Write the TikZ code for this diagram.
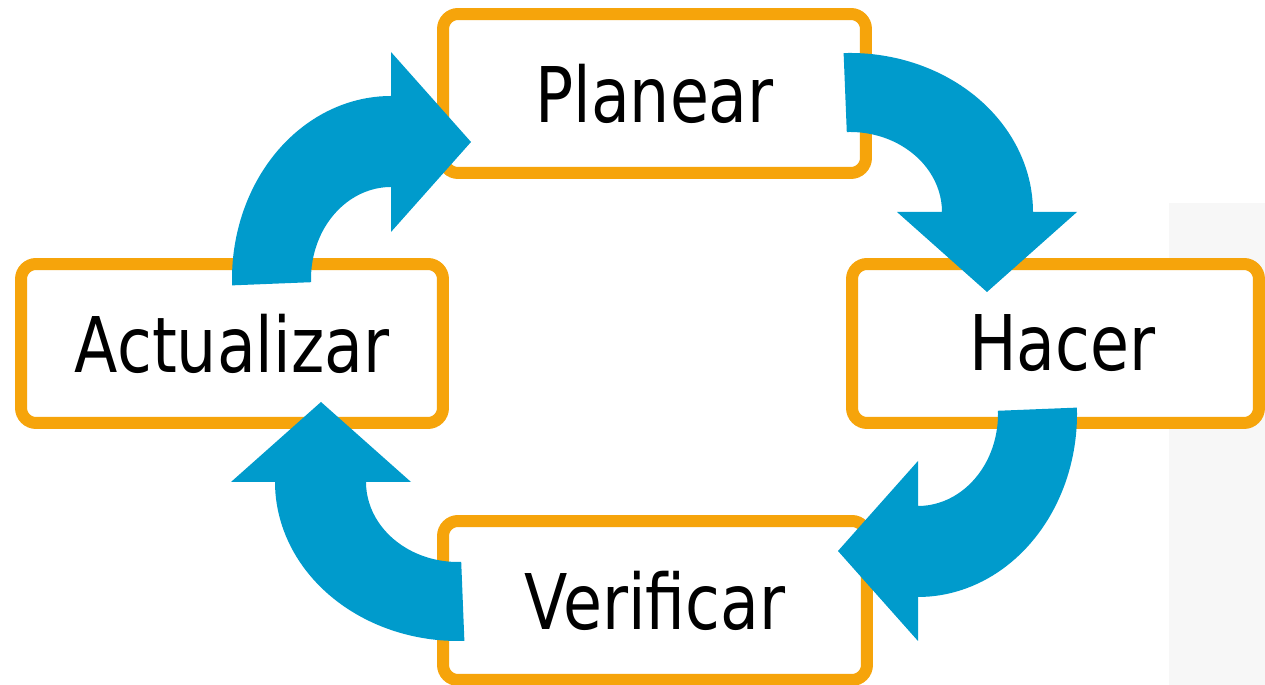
\documentclass[tikz,border=0pt]{standalone}
\usepackage{fontspec}
\setmainfont{DejaVu Sans}

\definecolor{boxorange}{HTML}{F6A40B}
\definecolor{cycleblue}{HTML}{009BCC}
\definecolor{panelgray}{HTML}{F7F7F7}

\tikzset{
	stage/.style={draw=boxorange, line width=0.24cm, fill=white, rounded corners=0.3cm,
		minimum height=3.18cm, inner sep=0pt, font=\fontsize{43.7}{50}\selectfont},
}
\newcommand{\stagetext}[1]{\scalebox{0.825}[1]{#1}}

\begin{document}
\begin{tikzpicture}[x=0.02cm, y=0.02cm]
	\useasboundingbox (0,0) rectangle (1265,685);

	% grey panel on the right
	\fill[panelgray] (1169,0) rectangle (1265,482);

	% stages of the cycle
	\node[stage, minimum width=8.46cm] (plan) at (654.5,591.5) {\stagetext{Planear}};
	\node[stage, minimum width=8.14cm] (do) at (1055.5,341.5) {\hspace*{0.28cm}\stagetext{Hacer}};
	\node[stage, minimum width=8.48cm] (check) at (655,84.5) {\stagetext{Verificar}};
	\node[stage, minimum width=8.44cm] (act) at (232,341.5) {\stagetext{Actualizar}};

	% curved arrows, clockwise
	\foreach \cx/\cy/\rot in {850/473/0, 918/271/-90, 458/203/180, 391/406/90}
		\fill[cycleblue, shift={(\cx,\cy)}, rotate=\rot]
			(92:183 and 159) arc[start angle=92, end angle=0, x radius=183, y radius=159]
			-- (227,0) -- (137,-80) -- (47,0) -- (92,0)
			arc[start angle=0, end angle=92, x radius=92, y radius=80] -- cycle;
\end{tikzpicture}
\end{document}
